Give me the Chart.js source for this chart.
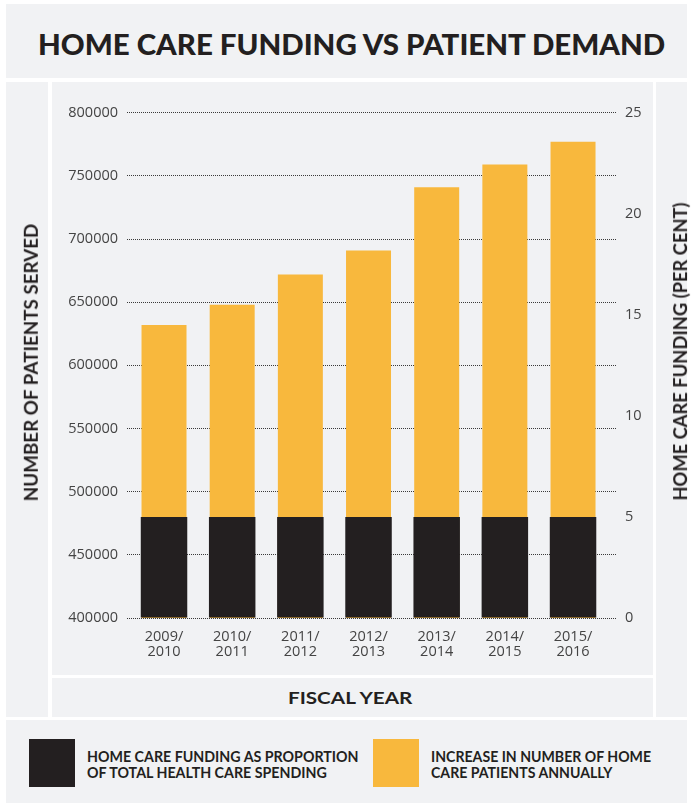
<!DOCTYPE html>
<html>
<head>
<meta charset="utf-8">
<script src="https://cdn.jsdelivr.net/npm/chart.js@4.4.1/dist/chart.umd.min.js"></script>
<style>
  html, body { margin: 0; padding: 0; background: #fff; }
  body { width: 691px; height: 805px; position: relative; overflow: hidden; font-family: Lato, sans-serif; color: #231f20; }
  .panel { position: absolute; background: #f1f2f4; }
  .txt { position: absolute; white-space: nowrap; font-weight: 700; }
  #chartBox { position: absolute; left: 0; top: 82px; width: 691px; height: 593px; }
  .swatch { position: absolute; width: 46px; height: 48px; }
</style>
</head>
<body>
<div class="panel" style="left:6px;top:4px;width:681px;height:74px"></div>
<div class="panel" style="left:6px;top:82px;width:42px;height:635px"></div>
<div class="panel" style="left:52px;top:82px;width:601px;height:593px"></div>
<div class="panel" style="left:52px;top:678px;width:601px;height:39px"></div>
<div class="panel" style="left:656px;top:82px;width:31px;height:635px"></div>
<div class="panel" style="left:6px;top:720px;width:681px;height:83px"></div>

<div id="chartBox"><canvas id="chart" width="691" height="593"></canvas></div>

<div class="txt" id="title" style="font-weight:900;font-size:29px">HOME CARE FUNDING VS PATIENT DEMAND</div>
<div class="txt" id="yTitle" style="font-size:19px">NUMBER OF PATIENTS SERVED</div>
<div class="txt" id="y1Title" style="font-size:19px">HOME CARE FUNDING (PER CENT)</div>
<div class="txt" id="xTitle" style="font-size:17px">FISCAL YEAR</div>

<div class="swatch" id="sw1" style="left:29px;top:739px;background:#231f20"></div>
<div class="swatch" id="sw2" style="left:373px;top:739px;background:#f8b83d"></div>
<div class="txt" id="leg1" style="font-size:14.5px;line-height:15.5px;left:87px;top:749px">HOME CARE FUNDING AS PROPORTION<br>OF TOTAL HEALTH CARE SPENDING</div>
<div class="txt" id="leg2" style="font-size:14.5px;line-height:15.5px;left:431px;top:749px">INCREASE IN NUMBER OF HOME<br>CARE PATIENTS ANNUALLY</div>

<script>
const categories = ["2009/2010", "2010/2011", "2011/2012", "2012/2013", "2013/2014", "2014/2015", "2015/2016"];
const patientsServed = [632000, 648000, 672000, 691000, 741000, 759000, 777000];
const fundingPercent = [5, 5, 5, 5, 5, 5, 5];
const leftTicks = [400000, 800000, 50000];
const rightTicks = [0, 25, 5];

// center a text block on (cx, cy), squeezed to width w, optionally rotated
function place(id, cx, cy, w, rotate) {
  const el = document.getElementById(id);
  const s = w / el.offsetWidth;
  el.style.left = (cx - el.offsetWidth / 2) + "px";
  el.style.top = (cy - el.offsetHeight / 2) + "px";
  el.style.transform = (rotate ? "rotate(-90deg) " : "") + "scaleX(" + s + ")";
}
function squeeze(id, w) {
  const el = document.getElementById(id);
  el.style.transformOrigin = "left center";
  el.style.transform = "scaleX(" + (w / el.offsetWidth) + ")";
}

place("title", 351.5, 43, 627, false);
place("yTitle", 30.5, 362, 278, true);
place("y1Title", 679, 351, 298, true);
place("xTitle", 350, 697, 124, false);
squeeze("leg1", 272);
squeeze("leg2", 220);

const tickFont = { family: "'Open Sans'", size: 14.5, lineHeight: "14.5px" };

new Chart(document.getElementById("chart"), {
  type: "bar",
  data: {
    datasets: [
      {
        label: "Home care funding as proportion of total health care spending",
        data: fundingPercent.map((v, i) => ({ x: i, y: v })),
        backgroundColor: "#231f20",
        yAxisID: "y1",
        grouped: false,
        barPercentage: 0.682,
        categoryPercentage: 1,
      },
      {
        label: "Increase in number of home care patients annually",
        data: patientsServed.map((v, i) => ({ x: i, y: v })),
        backgroundColor: "#f8b83d",
        yAxisID: "y",
        grouped: false,
        barPercentage: 0.66,
        categoryPercentage: 1,
      },
    ],
  },
  options: {
    responsive: false,
    animation: false,
    layout: { padding: { top: 30.7, left: 0, right: 0, bottom: 0 } },
    plugins: { legend: { display: false }, tooltip: { enabled: false } },
    scales: {
      x: {
        type: "linear",
        offset: false,
        min: -0.543,
        max: 6.645,
        grid: { display: false, offset: false },
        border: { display: false },
        afterBuildTicks: (axis) => {
          axis.ticks = categories.map((c, i) => ({ value: i }));
        },
        afterFit: (axis) => { axis.height = 57; },
        ticks: {
          padding: 4,
          color: "#444",
          font: tickFont,
          maxRotation: 0,
          autoSkip: false,
          callback: (v) => {
            const c = categories[v];
            return c ? [c.slice(0, 5), c.slice(5)] : "";
          },
        },
      },
      y: {
        position: "left",
        min: leftTicks[0],
        max: leftTicks[1],
        afterFit: (axis) => { axis.width = 127; },
        border: { display: false, dash: [1, 1] },
        grid: { color: "#3a3a3a", lineWidth: 1, drawTicks: false },
        ticks: {
          stepSize: leftTicks[2],
          padding: 9,
          color: "#444",
          font: tickFont,
          callback: (v) => String(v),
        },
      },
      y1: {
        position: "right",
        min: rightTicks[0],
        max: rightTicks[1],
        afterFit: (axis) => { axis.width = 74; },
        border: { display: false },
        grid: { drawOnChartArea: false, drawTicks: false },
        ticks: { stepSize: rightTicks[2], padding: 8, color: "#444", font: tickFont },
      },
    },
  },
});
</script>
</body>
</html>
